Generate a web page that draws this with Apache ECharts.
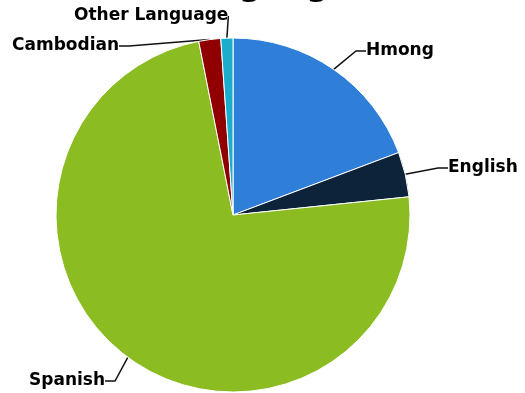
<!DOCTYPE html>
<html><head><meta charset="utf-8">
<script src="https://cdn.jsdelivr.net/npm/echarts@6/dist/echarts.min.js"></script>
<style>html,body{margin:0;padding:0;background:#fff}#c{width:525px;height:393px}</style>
</head><body><div id="c"></div>
<script>
const categories = ["Hmong", "English", "Spanish", "Cambodian", "Other Language"];
const values = [19.25, 4.1, 73.5, 2.0, 1.1];
const colors = ["#2f7ed8", "#0d233a", "#8bbc21", "#910000", "#1aadce"];
const titleText = "Language";
// label anchor points (left x, middle y)
const labelPos = [[366, 51], [448, 168], [29, 381], [12, 46], [74, 16]];

const chart = echarts.init(document.getElementById('c'), null, {renderer: 'canvas'});
chart.setOption({
  animation: false,
  title: {
    text: titleText, left: 'center', top: -34,
    textStyle: {fontFamily: 'DejaVu Sans', fontWeight: 'bold', fontSize: 32, color: '#000'}
  },
  series: [{
    type: 'pie',
    center: [233, 215],
    radius: 177,
    startAngle: 90,
    clockwise: true,
    data: categories.map((c, i) => ({name: c, value: values[i], itemStyle: {color: colors[i]}})),
    itemStyle: {borderColor: '#fff', borderWidth: 1},
    label: {
      show: true, formatter: '{b}',
      fontFamily: 'DejaVu Sans', fontWeight: 'bold', fontSize: 17, color: '#000'
    },
    labelLine: {show: true, lineStyle: {color: '#111', width: 1.5}, length: 15, length2: 10},
    labelLayout: function (p) {
      const pos = labelPos[p.dataIndex];
      return {x: pos[0], y: pos[1], align: 'left', verticalAlign: 'middle'};
    }
  }]
});
</script></body></html>
